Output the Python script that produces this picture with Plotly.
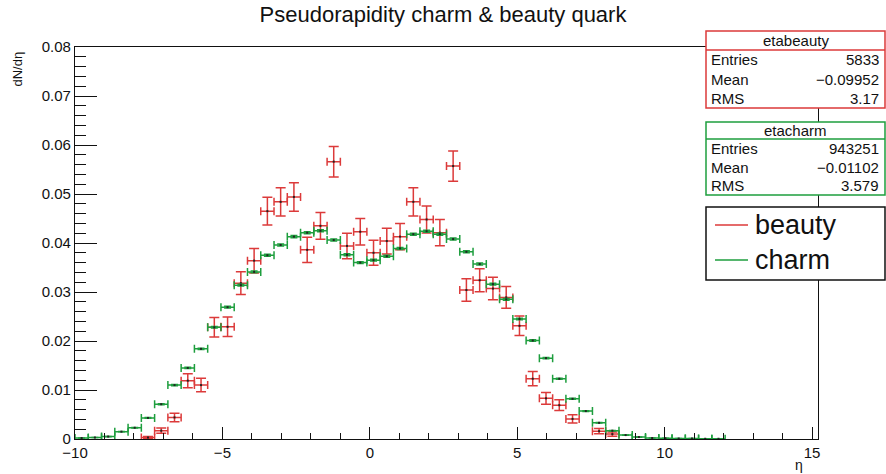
import math
import plotly.graph_objects as go

# ---------------- data ----------------
BIN_LOW = -10.0
BIN_WIDTH = 0.45

charm_values = [
    0.0002, 0.0003, 0.0005, 0.0015, 0.0023, 0.0043, 0.0071, 0.0110, 0.0145, 0.0184,
    0.0228, 0.0269, 0.0314, 0.0341, 0.0375, 0.0396, 0.0413, 0.0421, 0.0425, 0.0406,
    0.0376, 0.0360, 0.0365, 0.0373, 0.0389, 0.0418, 0.0424, 0.0418, 0.0408, 0.0382,
    0.0357, 0.0316, 0.0285, 0.0245, 0.0201, 0.0165, 0.0123, 0.0082, 0.0057, 0.0033,
    0.0017, 0.0008, 0.0004, 0.0002, 0.00015, 0.0001, 0.0001, 0.00005, 0.00005,
]
beauty_values = [
    None, None, None, None, None, 0.0003, 0.0017, 0.0044, 0.0119, 0.0110,
    0.0228, 0.0229, 0.0318, 0.0364, 0.0465, 0.0484, 0.0494, 0.0386, 0.0435, 0.0566,
    0.0394, 0.0423, 0.0380, 0.0404, 0.0413, 0.0484, 0.0448, 0.0421, 0.0557, 0.0304,
    0.0324, 0.0307, 0.0289, 0.0231, 0.0123, 0.0083, 0.0069, 0.0041, None, 0.0016,
    0.0010,
]
beauty_entries = 5833
charm_entries = 943251
stats_beauty = [("Entries", "5833"), ("Mean", "\u22120.09952"), ("RMS", "3.17")]
stats_charm = [("Entries", "943251"), ("Mean", "\u22120.01102"), ("RMS", "3.579")]
x_ticks = [-10, -5, 0, 5, 10, 15]

RED = "#dc3a3a"
GREEN = "#1e9e3e"
FONT = "Liberation Sans, Arial, Helvetica, sans-serif"


def centers(vals):
    return [BIN_LOW + BIN_WIDTH * (i + 0.5) for i in range(len(vals))]


def errs(vals, n):
    return [math.sqrt(v / n) if v is not None else None for v in vals]


fig = go.Figure()

fig.add_trace(go.Scatter(
    x=centers(beauty_values), y=beauty_values, mode="markers", name="beauty",
    marker=dict(color="#222", size=2, symbol="square"),
    error_x=dict(type="constant", value=BIN_WIDTH / 2, color=RED, thickness=1.5, width=4),
    error_y=dict(type="data", array=errs(beauty_values, beauty_entries), color=RED,
                 thickness=1.5, width=5),
    showlegend=False,
))
fig.add_trace(go.Scatter(
    x=centers(charm_values), y=charm_values, mode="markers", name="charm",
    marker=dict(color="#222", size=2, symbol="square"),
    error_x=dict(type="constant", value=BIN_WIDTH / 2, color=GREEN, thickness=1.5, width=4),
    error_y=dict(type="data", array=errs(charm_values, charm_entries), color=GREEN,
                 thickness=1.5, width=3.5),
    showlegend=False,
))

# ---------------- layout geometry (pixels) ----------------
W, H = 886, 474
L, R, T, B = 75, 818, 47, 439


def px(x):
    return (x - L) / (R - L)


def py(y):
    return (B - y) / (B - T)


shapes = []
annotations = []


def rect(x0, y0, x1, y1, color, width=1.5):
    shapes.append(dict(type="rect", xref="paper", yref="paper",
                       x0=px(x0), x1=px(x1), y0=py(y1), y1=py(y0),
                       line=dict(color=color, width=width), fillcolor="white",
                       layer="above"))


def hline(x0, x1, y, color, width=1.5):
    shapes.append(dict(type="line", xref="paper", yref="paper",
                       x0=px(x0), x1=px(x1), y0=py(y), y1=py(y),
                       line=dict(color=color, width=width), layer="above"))


def text(x, y, s, size, anchor="left", color="#111"):
    annotations.append(dict(xref="paper", yref="paper", x=px(x), y=py(y), text=s,
                            showarrow=False, xanchor=anchor, yanchor="middle",
                            font=dict(family=FONT, size=size, color=color)))


def statbox(top, head, bottom, title, rows, color):
    rect(706, top, 885, bottom, color)
    hline(706, 885, head, color)
    text(795.5, (top + head) / 2, title, 15, "center")
    step = (bottom - head) / 3
    for i, (k, v) in enumerate(rows):
        yy = head + step * (i + 0.5)
        text(709, yy, k, 15, "left")
        text(881, yy, v, 15, "right")


statbox(31, 50, 108, "etabeauty", stats_beauty, RED)
statbox(122, 139, 195, "etacharm", stats_charm, GREEN)

# legend
rect(706, 207, 885, 280, "#111", 1.5)
hline(715, 748, 225, RED, 1.5)
hline(715, 748, 260, GREEN, 1.5)
text(753, 225, "beauty", 27, "left")
text(753, 260, "charm", 27, "left")

# axis titles
annotations.append(dict(xref="paper", yref="paper", x=px(17), y=py(50), text="dN/d\u03b7",
                        textangle=-90, showarrow=False, xanchor="center", yanchor="top",
                        font=dict(family=FONT, size=13, color="#111")))
annotations.append(dict(xref="paper", yref="paper", x=px(799), y=py(465), text="\u03b7",
                        showarrow=False, xanchor="center", yanchor="middle",
                        font=dict(family=FONT, size=14, color="#111")))

fig.update_layout(
    width=W, height=H,
    margin=dict(l=L, r=W - R, t=T, b=H - B, pad=0),
    paper_bgcolor="white", plot_bgcolor="white",
    title=dict(text="Pseudorapidity charm &amp; beauty quark", x=0.5, xanchor="center",
               y=1 - 14 / H, yanchor="middle", font=dict(family=FONT, size=22, color="#111")),
    shapes=shapes, annotations=annotations,
    font=dict(family=FONT, color="#111"),
)
fig.update_xaxes(
    range=[BIN_LOW, 15.2], tickvals=x_ticks, ticks="inside", ticklen=12, tickwidth=1.3,
    tickcolor="#111", showline=True, linecolor="#111", linewidth=1.3, mirror=True,
    showgrid=False, zeroline=False, tickfont=dict(family=FONT, size=15, color="#111"),
    minor=dict(dtick=1, tick0=0, ticks="inside", ticklen=6, tickcolor="#111", tickwidth=1.3),
)
fig.update_yaxes(
    range=[0, 0.08], dtick=0.01, tick0=0, ticks="inside", ticklen=22, tickwidth=1.3,
    tickcolor="#111", showline=True, linecolor="#111", linewidth=1.3, mirror=True,
    showgrid=False, zeroline=False, tickfont=dict(family=FONT, size=15, color="#111"),
    minor=dict(dtick=0.002, tick0=0, ticks="inside", ticklen=11, tickcolor="#111", tickwidth=1.3),
)

fig.write_html("out.html")
